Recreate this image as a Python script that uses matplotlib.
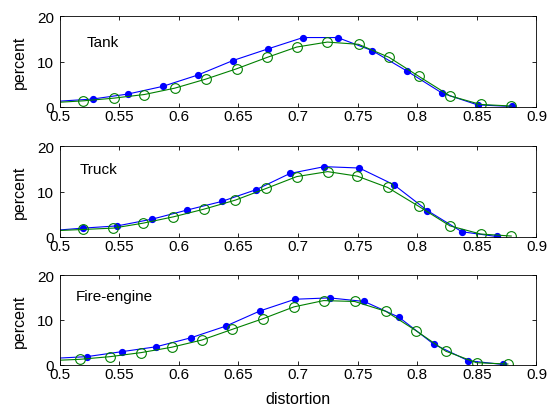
import matplotlib
matplotlib.use("Agg")
import matplotlib.pyplot as plt
import numpy as np

plt.rcParams['font.family'] = ['Liberation Sans', 'DejaVu Sans']

# dados (distortion, percent)
titulos = ["Tank", "Truck", "Fire-engine"]

tank_azul_x = [0.4985, 0.5279, 0.5573, 0.5866, 0.6159, 0.6453, 0.6749, 0.7042,
               0.7332, 0.7623, 0.7913, 0.8209, 0.8506, 0.8796]
tank_azul_y = [1.2, 1.7, 2.8, 4.5, 7.0, 10.2, 12.8, 15.3, 15.3, 12.4, 7.9, 3.0, 0.4, 0.05]
tank_verde_x = [0.4944, 0.5201, 0.5458, 0.5712, 0.5966, 0.6226, 0.6486, 0.6740,
                0.6989, 0.7246, 0.7508, 0.7765, 0.8014, 0.8274, 0.8531, 0.8788]
tank_verde_y = [0.9, 1.3, 1.9, 2.7, 4.1, 6.1, 8.4, 10.9, 13.2, 14.3, 13.8, 10.9,
                6.7, 2.4, 0.5, 0.15]

truck_azul_x = [0.4906, 0.5196, 0.5486, 0.5779, 0.6070, 0.6360, 0.6648, 0.6933,
                0.7221, 0.7514, 0.7804, 0.8084, 0.8374, 0.8665]
truck_azul_y = [1.3, 1.9, 2.4, 3.9, 5.9, 7.8, 10.4, 14.0, 15.5, 15.2, 11.5, 5.8, 1.1, 0.05]
truck_verde_x = [0.4936, 0.5193, 0.5450, 0.5701, 0.5955, 0.6212, 0.6475, 0.6735,
                 0.6989, 0.7249, 0.7497, 0.7751, 0.8014, 0.8274, 0.8531, 0.8788]
truck_verde_y = [1.3, 1.6, 1.9, 3.0, 4.4, 6.1, 8.1, 10.7, 13.3, 14.4, 13.4, 10.9,
                 6.7, 2.4, 0.6, 0.15]

fire_azul_x = [0.4938, 0.5229, 0.5520, 0.5810, 0.6101, 0.6394, 0.6682, 0.6975,
               0.7265, 0.7556, 0.7846, 0.8137, 0.8427, 0.8718]
fire_azul_y = [1.4, 1.8, 2.9, 4.0, 6.0, 8.6, 12.0, 14.6, 14.9, 14.1, 10.6, 4.6, 0.9, 0.05]
fire_verde_x = [0.4911, 0.5168, 0.5425, 0.5684, 0.5941, 0.6193, 0.6450, 0.6710,
                0.6966, 0.7215, 0.7475, 0.7737, 0.7989, 0.8240, 0.8497, 0.8760]
fire_verde_y = [0.9, 1.2, 1.8, 2.7, 3.9, 5.5, 7.9, 10.3, 12.9, 14.3, 14.1, 11.9,
                7.6, 3.0, 0.45, 0.15]

azuis = [(tank_azul_x, tank_azul_y), (truck_azul_x, truck_azul_y), (fire_azul_x, fire_azul_y)]
verdes = [(tank_verde_x, tank_verde_y), (truck_verde_x, truck_verde_y), (fire_verde_x, fire_verde_y)]
texto_pos = [(0.523, 14.3), (0.517, 15.0), (0.514, 15.4)]

xticks = np.arange(0.5, 0.9001, 0.05)
xlabels = ["0.5", "0.55", "0.6", "0.65", "0.7", "0.75", "0.8", "0.85", "0.9"]

fig = plt.figure(figsize=(5.47, 4.10), dpi=100)
posicoes = [[0.1088, 0.7373, 0.872, 0.2205],
            [0.1088, 0.4202, 0.872, 0.2205],
            [0.1088, 0.1080, 0.872, 0.2188]]

for i in range(3):
    ax = fig.add_axes(posicoes[i])
    # o primeiro ponto fica fora do eixo: so a linha aparece
    ax.plot(azuis[i][0], azuis[i][1], '-o', color='#0000ff', lw=0.8,
            markersize=4.2, markerfacecolor='#0000ff', markeredgecolor='#0000ff',
            markevery=slice(1, None))
    ax.plot(verdes[i][0], verdes[i][1], '-o', color='#008000', lw=0.8,
            markersize=7, markerfacecolor='none', markeredgecolor='#008000',
            markeredgewidth=0.8, markevery=slice(1, None))
    ax.set_xlim(0.5, 0.9)
    ax.set_ylim(0, 20)
    ax.set_xticks(xticks)
    ax.set_xticklabels(xlabels)
    ax.set_yticks([0, 10, 20])
    ax.tick_params(direction='in', length=3, width=0.6, top=True, right=True,
                   labelsize=11)
    ax.tick_params(axis='x', pad=2)
    ax.tick_params(axis='y', pad=4)
    for s in ax.spines.values():
        s.set_linewidth(0.6)
    ax.set_ylabel("percent", fontsize=11.5, labelpad=7)
    ax.text(texto_pos[i][0], texto_pos[i][1], titulos[i], fontsize=11, va='center', ha='left')
    if i == 2:
        ax.set_xlabel("distortion", fontsize=11.5, labelpad=7)

fig.savefig("out.png", dpi=100)
